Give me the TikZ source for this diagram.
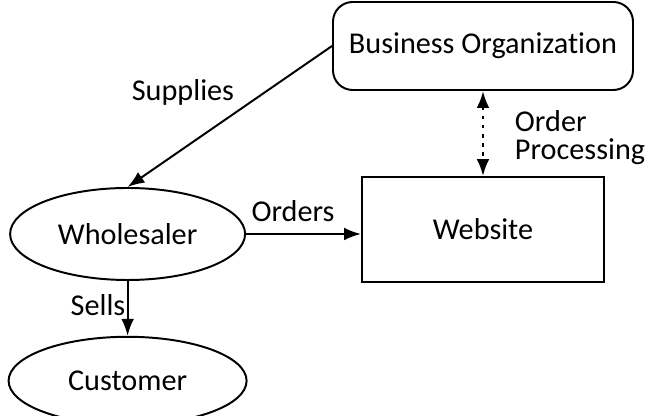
\documentclass[tikz,border=0pt]{standalone}
\usepackage{fontspec}
\setmainfont{Carlito}[Ligatures=NoCommon]
\usetikzlibrary{arrows.meta,shapes.geometric}

\begin{document}
\begin{tikzpicture}[
  line width=1.4pt,
  every node/.style={font=\fontsize{21.5}{24}\selectfont},
  box/.style={draw,rectangle,inner sep=0pt},
  oval/.style={draw,ellipse,inner sep=0pt},
  arr/.style={-{Latex[length=12pt,width=9pt]}}]
 \useasboundingbox (0,0) rectangle (16.275,10.4);
 \node[box,rounded corners=14pt,minimum width=7.5cm,minimum height=2.2cm] (bo) at (12.075,9.25) {Business Organization};
 \node[box,minimum width=6.05cm,minimum height=2.625cm] (web) at (12.075,4.66) {Website};
 \node[oval,minimum width=5.875cm,minimum height=2.3cm] (ws) at (3.19,4.55) {Wholesaler};
 \node[oval,minimum width=5.95cm,minimum height=2.2cm] (cu) at (3.19,0.88) {Customer};

 \draw[arr] (bo.west) -- (ws.north);
 \draw[arr] (ws.east) -- (ws.east -| web.west);
 \draw[arr] (ws.south) -- (cu.north);
 \draw[{Latex[length=12pt,width=9pt]}-{Latex[length=12pt,width=9pt]},dash pattern=on 2.5pt off 4pt,line width=1.8pt] (bo.south) -- (web.north);

 \node (supplies) at (4.575,8.1) {Supplies};
 \node (orders) at (7.325,5.125) {Orders};
 \node (sells) at (2.45,2.775) {Sells};
 \node[anchor=west,align=left,inner sep=0pt,font=\fontsize{21.5}{20}\selectfont] (proc) at (12.85,6.95) {Order\\Processing};
\end{tikzpicture}
\end{document}
